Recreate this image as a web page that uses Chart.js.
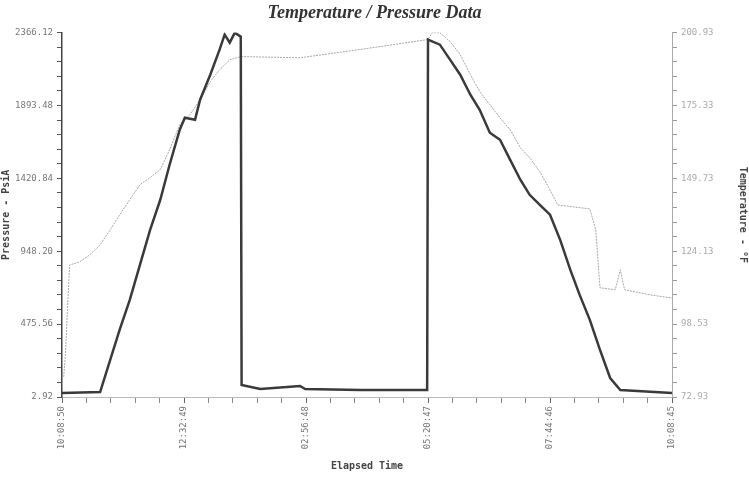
<!DOCTYPE html>
<html>
<head>
<meta charset="utf-8">
<script src="https://cdn.jsdelivr.net/npm/chart.js@4/dist/chart.umd.min.js"></script>
<style>
  html, body { margin: 0; padding: 0; background: #fff; }
  #wrap { width: 749px; height: 486px; }
</style>
</head>
<body>
<div id="wrap"><canvas id="myChart"></canvas></div>
<script>
// elapsed minutes from start
const xTickLabels = ['10:08:50', '12:32:49', '02:56:48', '05:20:47', '07:44:46', '10:08:45'];
const leftTickLabels = ['2.92', '475.56', '948.20', '1420.84', '1893.48', '2366.12'];
const rightTickLabels = ['72.93', '98.53', '124.13', '149.73', '175.33', '200.93'];

const pressureTime = [0, 45, 68, 80, 92, 104, 116, 127, 139, 145, 157, 163, 175, 186, 192, 198, 204, 211, 212, 234, 281, 287, 352, 431, 432, 446, 458, 470, 482, 493, 505, 517, 529, 541, 552, 564, 576, 588, 600, 611, 623, 635, 647, 659, 720];
const pressure = [29, 35, 438, 633, 860, 1087, 1282, 1509, 1736, 1814, 1801, 1931, 2093, 2256, 2353, 2301, 2366, 2340, 81, 55, 74, 55, 48, 48, 2320, 2288, 2191, 2093, 1963, 1866, 1717, 1671, 1541, 1412, 1314, 1249, 1185, 1022, 827, 665, 503, 308, 126, 48, 29];

const tempTime = [2, 4, 7, 9, 21, 33, 45, 57, 68, 80, 92, 104, 116, 127, 139, 151, 163, 175, 186, 198, 212, 281, 352, 432, 437, 446, 458, 470, 482, 493, 505, 517, 529, 541, 552, 564, 576, 585, 623, 630, 635, 653, 659, 664, 694, 720];
const temperature = [80.0, 87.7, 107.0, 119.3, 120.4, 122.9, 126.4, 131.7, 136.9, 142.2, 147.5, 150.0, 152.8, 159.8, 168.6, 172.1, 177.4, 183.7, 187.9, 191.4, 192.5, 192.1, 195.0, 198.5, 200.9, 200.9, 197.8, 193.2, 186.2, 180.2, 175.6, 171.0, 166.8, 160.5, 157.0, 152.1, 145.7, 140.4, 139.0, 131.7, 111.3, 110.6, 117.6, 110.6, 108.8, 107.7];

const tickFont = { family: 'DejaVu Sans Mono', size: 9 };
const titleFont = { family: 'DejaVu Sans Mono', size: 10, weight: 'bold' };

chartConfig = {
  type: 'line',
  data: {
    datasets: [
      {
        label: 'Pressure',
        data: pressureTime.map((t, i) => ({ x: t, y: pressure[i] })),
        borderColor: '#3a3a3a',
        borderWidth: 2.5,
        yAxisID: 'y',
      },
      {
        label: 'Temperature',
        data: tempTime.map((t, i) => ({ x: t, y: temperature[i] })),
        borderColor: '#a8a8a8',
        borderWidth: 1,
        borderDash: [2, 1],
        yAxisID: 'y1',
      },
    ],
  },
  options: {
    responsive: true,
    maintainAspectRatio: false,
    animation: false,
    elements: {
      point: { radius: 0 },
      line: { tension: 0 },
    },
    layout: { padding: 0 },
    plugins: {
      legend: { display: false },
      tooltip: { enabled: false },
      title: {
        display: true,
        text: 'Temperature / Pressure Data',
        color: '#333',
        font: { family: 'Liberation Serif', size: 18, style: 'italic', weight: 'bold' },
        padding: { top: 3, bottom: 8 },
      },
    },
    scales: {
      x: {
        type: 'linear',
        min: 0,
        max: 720,
        afterFit: (scale) => { scale.height = 89; },
        border: { color: '#bbb' },
        grid: {
          drawOnChartArea: false,
          tickLength: 6,
          tickColor: (c) => (c.index % 5 === 0 ? '#666' : '#888'),
        },
        ticks: {
          stepSize: 28.8,
          autoSkip: false,
          minRotation: 90,
          maxRotation: 90,
          color: '#777',
          font: tickFont,
          padding: 3,
          callback: function (value, index) {
            return index % 5 === 0 ? xTickLabels[index / 5] : '';
          },
        },
        title: {
          display: true,
          text: 'Elapsed Time',
          color: '#444',
          font: titleFont,
          padding: { top: 4, bottom: 14 },
        },
      },
      y: {
        type: 'linear',
        position: 'left',
        min: 2.92,
        max: 2366.12,
        afterFit: (scale) => { scale.width = 62; },
        border: { color: '#444', width: 1.5 },
        grid: {
          drawOnChartArea: false,
          tickLength: 5,
          tickColor: '#555',
        },
        ticks: {
          stepSize: 94.528,
          autoSkip: false,
          color: '#777',
          font: tickFont,
          padding: 4,
          callback: function (value, index) {
            return index % 5 === 0 ? leftTickLabels[index / 5] : '';
          },
        },
        title: {
          display: true,
          text: 'Pressure - PsiA',
          color: '#444',
          font: titleFont,
          padding: { top: 0, bottom: 2 },
        },
      },
      y1: {
        type: 'linear',
        position: 'right',
        min: 72.93,
        max: 200.93,
        afterFit: (scale) => { scale.width = 77; },
        border: { color: '#aaa', dash: [3, 2] },
        grid: {
          drawOnChartArea: false,
          tickLength: 5,
          tickColor: '#999',
        },
        ticks: {
          stepSize: 5.12,
          autoSkip: false,
          color: '#aaa',
          font: tickFont,
          padding: 4,
          callback: function (value, index) {
            return index % 5 === 0 ? rightTickLabels[index / 5] : '';
          },
        },
        title: {
          display: true,
          text: 'Temperature - °F',
          color: '#444',
          font: titleFont,
          padding: { top: 0, bottom: 4 },
        },
      },
    },
  },
};

const ctx = document.getElementById('myChart');
myChart = new Chart(ctx, chartConfig);
</script>
</body>
</html>
